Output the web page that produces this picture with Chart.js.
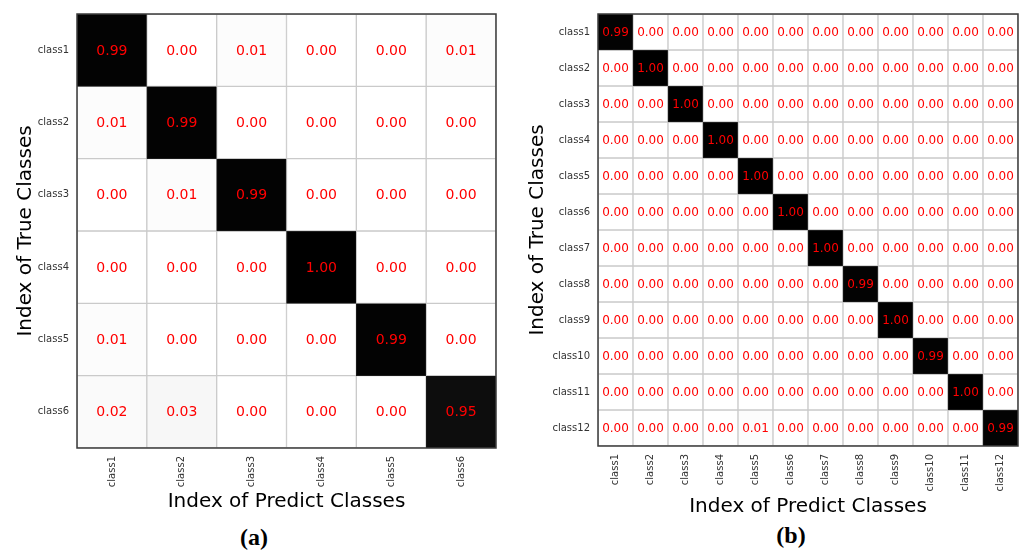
<!DOCTYPE html>
<html>
<head>
<meta charset="utf-8">
<script src="https://cdn.jsdelivr.net/npm/chart.js@4"></script>
<style>
  body { margin: 0; background: #fff; width: 1025px; height: 552px; position: relative; overflow: hidden; }
  .box { position: absolute; }
  .cap { position: absolute; font: bold 24px "Liberation Serif"; transform: translate(-50%, -50%); color: #000; }
</style>
</head>
<body>
<div class="box" style="left:0;top:0;width:510px;height:520px"><canvas id="cmA"></canvas></div>
<div class="box" style="left:520px;top:0;width:505px;height:520px"><canvas id="cmB"></canvas></div>
<div class="cap" style="left:254px;top:537px">(a)</div>
<div class="cap" style="left:791px;top:535px">(b)</div>
<script>
// (a) six classes
const classesA = ["class1", "class2", "class3", "class4", "class5", "class6"];
const matrixA = [
  [0.99, 0.00, 0.01, 0.00, 0.00, 0.01],
  [0.01, 0.99, 0.00, 0.00, 0.00, 0.00],
  [0.00, 0.01, 0.99, 0.00, 0.00, 0.00],
  [0.00, 0.00, 0.00, 1.00, 0.00, 0.00],
  [0.01, 0.00, 0.00, 0.00, 0.99, 0.00],
  [0.02, 0.03, 0.00, 0.00, 0.00, 0.95]
];

// (b) twelve classes
const classesB = ["class1", "class2", "class3", "class4", "class5", "class6",
                  "class7", "class8", "class9", "class10", "class11", "class12"];
const matrixB = [
  [0.99, 0.00, 0.00, 0.00, 0.00, 0.00, 0.00, 0.00, 0.00, 0.00, 0.00, 0.00],
  [0.00, 1.00, 0.00, 0.00, 0.00, 0.00, 0.00, 0.00, 0.00, 0.00, 0.00, 0.00],
  [0.00, 0.00, 1.00, 0.00, 0.00, 0.00, 0.00, 0.00, 0.00, 0.00, 0.00, 0.00],
  [0.00, 0.00, 0.00, 1.00, 0.00, 0.00, 0.00, 0.00, 0.00, 0.00, 0.00, 0.00],
  [0.00, 0.00, 0.00, 0.00, 1.00, 0.00, 0.00, 0.00, 0.00, 0.00, 0.00, 0.00],
  [0.00, 0.00, 0.00, 0.00, 0.00, 1.00, 0.00, 0.00, 0.00, 0.00, 0.00, 0.00],
  [0.00, 0.00, 0.00, 0.00, 0.00, 0.00, 1.00, 0.00, 0.00, 0.00, 0.00, 0.00],
  [0.00, 0.00, 0.00, 0.00, 0.00, 0.00, 0.00, 0.99, 0.00, 0.00, 0.00, 0.00],
  [0.00, 0.00, 0.00, 0.00, 0.00, 0.00, 0.00, 0.00, 1.00, 0.00, 0.00, 0.00],
  [0.00, 0.00, 0.00, 0.00, 0.00, 0.00, 0.00, 0.00, 0.00, 0.99, 0.00, 0.00],
  [0.00, 0.00, 0.00, 0.00, 0.00, 0.00, 0.00, 0.00, 0.00, 0.00, 1.00, 0.00],
  [0.00, 0.00, 0.00, 0.00, 0.01, 0.00, 0.00, 0.00, 0.00, 0.00, 0.00, 0.99]
];

const xTitle = "Index of Predict Classes";
const yTitle = "Index of True Classes";
const FONT = "DejaVu Sans";

function shade(v) {
  const g = Math.round(255 * (1 - v));
  return `rgb(${g},${g},${g})`;
}

// red numbers on each cell + dark frame round the plot
const cellText = {
  id: "cellText",
  afterDatasetsDraw(chart, args, opts) {
    const ctx = chart.ctx;
    ctx.save();
    ctx.font = opts.font;
    ctx.fillStyle = "#ff0000";
    ctx.textAlign = "center";
    ctx.textBaseline = "middle";
    chart.data.datasets.forEach((ds, r) => {
      chart.getDatasetMeta(r).data.forEach((bar, c) => {
        const p = bar.getCenterPoint();
        ctx.fillText(ds.values[c].toFixed(2), p.x, p.y + 1);
      });
    });
    const a = chart.chartArea;
    ctx.strokeStyle = "#3a3a3a";
    ctx.lineWidth = 1.5;
    ctx.strokeRect(a.left, a.top, a.right - a.left, a.bottom - a.top);
    ctx.restore();
  }
};

function drawMatrix(id, classes, matrix, cfg) {
  new Chart(document.getElementById(id), {
    type: "bar",
    plugins: [cellText],
    data: {
      labels: classes,
      datasets: matrix.map((row, r) => ({
        data: row.map(() => [r, r + 1]),
        values: row,
        backgroundColor: row.map(shade),
        borderColor: row.map(v => v > 0.5 ? "#1a1a1a" : "#cacaca"),
        borderWidth: 1,
        borderSkipped: false,
        grouped: false,
        barPercentage: 1,
        categoryPercentage: 1
      }))
    },
    options: {
      responsive: true,
      maintainAspectRatio: false,
      animation: false,
      layout: { padding: { top: cfg.padTop, right: cfg.padRight, bottom: cfg.padBottom, left: 0 } },
      plugins: {
        legend: { display: false },
        tooltip: { enabled: false },
        cellText: { font: cfg.cellFont }
      },
      scales: {
        x: {
          type: "category",
          offset: true,
          grid: { display: false, drawTicks: false },
          border: { display: false },
          afterFit: axis => { axis.height = cfg.xAxisHeight; },
          ticks: {
            autoSkip: false,
            minRotation: 90,
            maxRotation: 90,
            padding: 8,
            color: "#333",
            font: { family: FONT, size: 10 }
          },
          title: {
            display: true,
            text: xTitle,
            color: "#000",
            padding: { top: 0, bottom: 0 },
            font: { family: FONT, size: 20 }
          }
        },
        y: {
          type: "linear",
          min: 0,
          max: classes.length,
          reverse: true,
          grid: { display: false, drawTicks: false },
          border: { display: false },
          afterFit: axis => { axis.width = cfg.yAxisWidth; },
          afterBuildTicks: axis => {
            axis.ticks = classes.map((_, i) => ({ value: i + 0.5 }));
          },
          ticks: {
            autoSkip: false,
            padding: 8,
            color: "#333",
            font: { family: FONT, size: 10 },
            callback: (v, i) => classes[i]
          },
          title: {
            display: true,
            text: yTitle,
            color: "#000",
            padding: { top: cfg.yTitlePad, bottom: 0 },
            font: { family: FONT, size: 20 }
          }
        }
      }
    }
  });
}

drawMatrix("cmA", classesA, matrixA, {
  padTop: 12, padRight: 14, padBottom: 6,
  yAxisWidth: 77, xAxisHeight: 66, yTitlePad: 14,
  cellFont: `14px "${FONT}"`
});

drawMatrix("cmB", classesB, matrixB, {
  padTop: 8, padRight: 7, padBottom: 1,
  yAxisWidth: 78, xAxisHeight: 73, yTitlePad: 6,
  cellFont: `12px "${FONT}"`
});
</script>
</body>
</html>
